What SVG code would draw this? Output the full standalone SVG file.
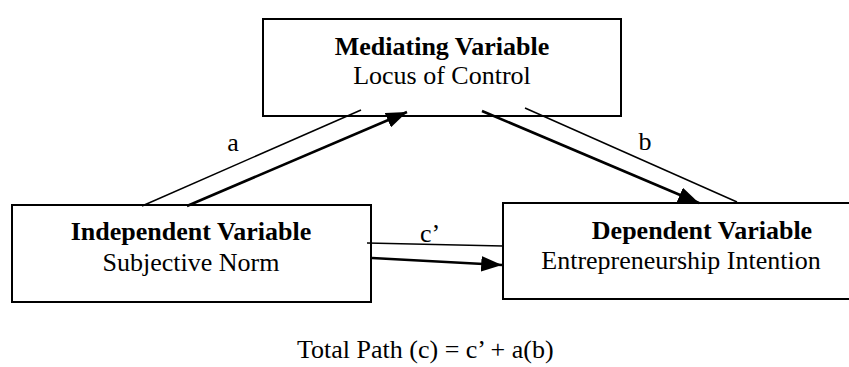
<svg xmlns="http://www.w3.org/2000/svg" width="849" height="367" viewBox="0 0 849 367">
<style>
.box{fill:#fff;stroke:#000;stroke-width:2}
.t{font-family:"Liberation Serif","Times New Roman",serif;font-size:26px;fill:#000}
.b{font-weight:bold}
.thin{stroke:#000;stroke-width:1.5;fill:none}
.thick{stroke:#000;stroke-width:2.6;fill:none}
</style>
<defs>
<marker id="ah" markerWidth="8" markerHeight="6" refX="8" refY="3" orient="auto" markerUnits="strokeWidth">
<path d="M0,0 L8,3 L0,6 Z" fill="#000"/>
</marker>
</defs>
<rect width="849" height="367" fill="#fff"/>
<g id="mediating">
<rect class="box" x="263" y="19" width="358" height="97"/>
<text class="t b" x="442" y="55" text-anchor="middle">Mediating Variable</text>
<text class="t" x="442" y="84" text-anchor="middle">Locus of Control</text>
</g>
<g id="independent">
<rect class="box" x="12" y="205" width="359" height="97"/>
<text class="t b" x="191" y="240" text-anchor="middle">Independent Variable</text>
<text class="t" x="191" y="271" text-anchor="middle">Subjective Norm</text>
</g>
<g id="dependent">
<rect class="box" x="503" y="203" width="360" height="96"/>
<text class="t b" x="702" y="239" text-anchor="middle">Dependent Variable</text>
<text class="t" x="681" y="269" text-anchor="middle">Entrepreneurship Intention</text>
</g>
<g id="connectors">
<line class="thin" x1="142" y1="206" x2="361" y2="110"/>
<line class="thick" x1="187" y1="206" x2="407" y2="112" marker-end="url(#ah)"/>
<line class="thin" x1="525" y1="108" x2="737" y2="202"/>
<line class="thick" x1="482" y1="111" x2="699" y2="203" marker-end="url(#ah)"/>
<line class="thin" x1="367" y1="243" x2="503" y2="246"/>
<line class="thick" x1="372" y1="258" x2="502" y2="265" marker-end="url(#ah)"/>
<text class="t" x="233" y="151" text-anchor="middle">a</text>
<text class="t" x="645" y="150" text-anchor="middle">b</text>
<text class="t" x="430" y="242" text-anchor="middle">c’</text>
</g>
<text class="t" x="297" y="358">Total Path (c) = c’ + a(b)</text>
</svg>
